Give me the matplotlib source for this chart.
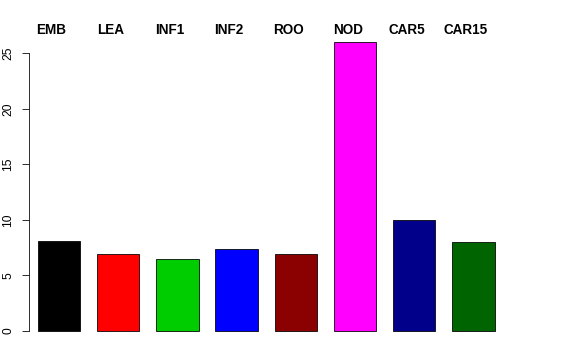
import matplotlib
matplotlib.use("Agg")
import matplotlib.pyplot as plt
import matplotlib.transforms as mtransforms

categories = ["EMB", "LEA", "INF1", "INF2", "ROO", "NOD", "CAR5", "CAR15"]
values = [8.08, 6.96, 6.51, 7.36, 6.94, 25.97, 10.0, 8.02]
colors = ["#000000", "#FF0000", "#00CD00", "#0000FF", "#8B0000", "#FF00FF", "#00008B", "#006400"]
yticks = [0, 5, 10, 15, 20, 25]

W, H = 576, 360
fig = plt.figure(figsize=(W / 72, H / 72), dpi=72)
ax = fig.add_axes([0, 0, 1, 1])

px_x = 59.21      # pixels per bar slot
x0_px = 59.0      # centre of first bar in px
px_y = 11.11      # pixels per y unit
y0_px = 29.0      # y=0 position from bottom in px

ax.set_xlim(-x0_px / px_x, (W - x0_px) / px_x)
ax.set_ylim(-y0_px / px_y, (H - y0_px) / px_y)

xs = list(range(len(categories)))
ax.bar(xs, values, width=1 / 1.4, color=colors, edgecolor="black", linewidth=0.8)

for s in ["top", "right", "bottom"]:
    ax.spines[s].set_visible(False)
ax.spines["left"].set_position(("data", (29 - x0_px) / px_x))
ax.spines["left"].set_bounds(0, 25)
ax.spines["left"].set_linewidth(0.8)
ax.set_yticks(yticks)
ax.set_yticklabels([str(t) for t in yticks], rotation=90, va="center",
                   fontsize=12, family="Liberation Sans")
ax.tick_params(axis="y", length=7.5, width=0.8, pad=7.5)
ax.set_xticks([])

trans = mtransforms.blended_transform_factory(ax.transData, fig.transFigure)
for x, c in zip(xs, categories):
    ax.text(x - 0.125, (H - 34) / H, c, transform=trans, ha="center", va="baseline",
            fontsize=13.5, fontweight="bold", family="Liberation Sans")

fig.savefig("out.png", dpi=72)
